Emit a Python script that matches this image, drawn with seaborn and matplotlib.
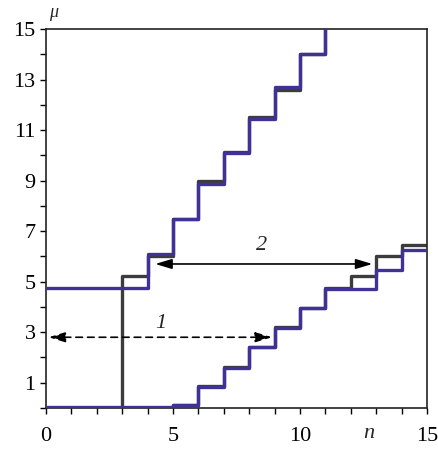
import matplotlib
matplotlib.use("Agg")
import matplotlib.pyplot as plt
import seaborn as sns
import pandas as pd
import numpy as np

# Step levels on unit intervals of n (value holds from n to n+1)
n_upper_gray = [0, 3, 4, 5, 6, 7, 8, 9, 10, 11]
mu_upper_gray = [0.0, 5.24, 6.0, 7.5, 9.0, 10.15, 11.5, 12.6, 14.0, 16.0]
n_upper_blue = [0, 4, 5, 6, 7, 8, 9, 10, 11]
mu_upper_blue = [4.75, 6.1, 7.5, 8.88, 10.1, 11.45, 12.7, 14.0, 16.0]

n_lower_gray = [0, 5, 6, 7, 8, 9, 10, 11, 12, 13, 14, 15]
mu_lower_gray = [0.0, 0.1, 0.87, 1.63, 2.42, 3.2, 3.97, 4.75, 5.24, 6.0, 6.44, 6.44]
n_lower_blue = [0, 5, 6, 7, 8, 9, 10, 11, 13, 14, 15]
mu_lower_blue = [0.05, 0.12, 0.85, 1.6, 2.4, 3.15, 3.95, 4.72, 5.45, 6.24, 6.24]

x_tick_labels = ["0", "5", "10", "15"]
y_tick_labels = ["1", "3", "5", "7", "9", "11", "13", "15"]

GRAY = "#3c3c3c"
BLUE = "#3f3196"

sns.set_style("ticks")
plt.rcParams["font.family"] = ["Liberation Serif", "DejaVu Serif"]

fig = plt.figure(figsize=(4.39, 4.49), dpi=100)
ax = fig.add_axes([46 / 439, 41 / 449, 381 / 439, 379 / 449])


def steps(n, mu, color):
    df = pd.DataFrame({"n": n, "mu": mu})
    sns.lineplot(data=df, x="n", y="mu", drawstyle="steps-post", color=color,
                 lw=2.4, ax=ax, estimator=None, sort=False,
                 zorder=3 if color == BLUE else 2)


steps(n_upper_gray, mu_upper_gray, GRAY)
steps(n_lower_gray, mu_lower_gray, GRAY)
steps(n_upper_blue, mu_upper_blue, BLUE)
steps(n_lower_blue, mu_lower_blue, BLUE)

ax.set_xlim(0, 15)
ax.set_ylim(0, 15)
ax.set_xlabel("")
ax.set_ylabel("")

ax.set_xticks(np.arange(0, 16))
ax.set_xticklabels([x_tick_labels[i // 5] if i % 5 == 0 else "" for i in range(16)])
ax.set_yticks(np.arange(0, 16))
ax.set_yticklabels([y_tick_labels[(i - 1) // 2] if i % 2 == 1 else "" for i in range(16)])
ax.tick_params(axis="both", direction="out", length=4.5, width=1.0, color="black",
               labelsize=16, labelcolor="black")
ax.tick_params(axis="x", pad=9)
ax.tick_params(axis="y", pad=3)

for s in ax.spines.values():
    s.set_color("#222222")
    s.set_linewidth(1.2)

ax.text(12.7, -1.0, "n", style="italic", fontsize=16, ha="center", va="center",
        clip_on=False)
ax.text(0.3, 15.65, "μ", style="italic", fontsize=13, ha="center", va="center",
        clip_on=False)

# Double-headed arrows marking the two intervals
ax.annotate("", xy=(0.1, 2.8), xytext=(8.9, 2.8),
            arrowprops=dict(arrowstyle="<|-|>,head_length=1.0,head_width=0.3",
                            color="black", lw=1.2, linestyle=(0, (4, 3)),
                            shrinkA=0, shrinkB=0), zorder=4)
ax.annotate("", xy=(4.3, 5.7), xytext=(12.85, 5.7),
            arrowprops=dict(arrowstyle="<|-|>,head_length=1.0,head_width=0.3",
                            color="black", lw=1.2, shrinkA=0, shrinkB=0), zorder=4)
ax.text(4.5, 3.35, "1", style="italic", fontsize=16, ha="center", va="center")
ax.text(8.5, 6.45, "2", style="italic", fontsize=16, ha="center", va="center")

fig.savefig("out.png", dpi=100)
